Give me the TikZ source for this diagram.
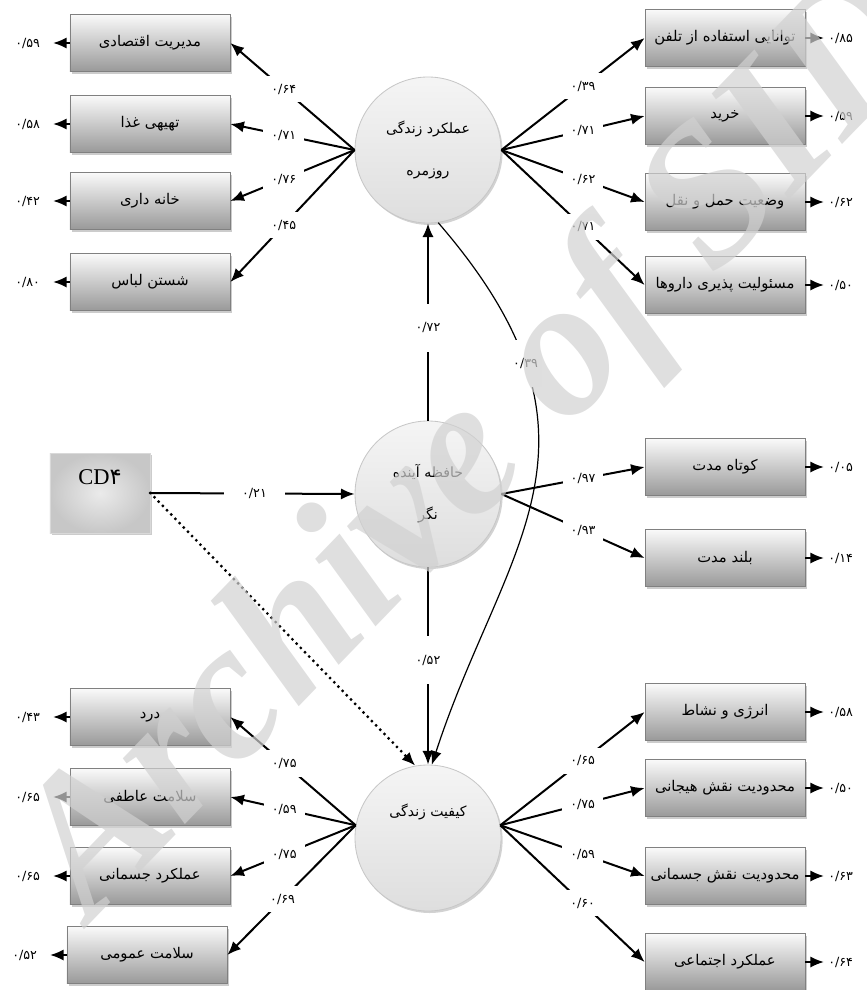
\documentclass[tikz,border=0pt]{standalone}
\usepackage{fontspec}
\setmainfont{Liberation Serif}
\newfontfamily\fa[Script=Arabic]{DejaVu Sans}
\TeXXeTstate=1
\usetikzlibrary{arrows.meta,shadows}

\newcommand{\fatxt}[1]{{\beginR #1\endR}}

\begin{document}
\begin{tikzpicture}[x=0.25mm, y=-0.25mm,
  itembox/.style={rectangle, draw=black!50, line width=0.5pt, top color=black!2,
    bottom color=black!40, minimum width=40mm, minimum height=14.3mm,
    drop shadow={shadow xshift=0.6mm, shadow yshift=-0.6mm, fill=black!40},
    font=\fa\fontsize{10.5}{12}\selectfont},
  latent/.style={circle, draw=black!22, line width=0.6pt, top color=white!96!black,
    bottom color=black!13, minimum size=36.5mm, inner sep=0pt, align=center,
    drop shadow={shadow xshift=0.4mm, shadow yshift=-0.5mm, fill=black!35},
    font=\fa\fontsize{10}{30}\selectfont},
  cdbox/.style={rectangle, draw=black!15, inner color=white!92!black, outer color=black!22,
    minimum width=25mm, minimum height=20mm,
    drop shadow={shadow xshift=0.6mm, shadow yshift=-0.6mm, fill=black!40}},
  loadlbl/.style={fill=white, inner sep=2mm, pos=0.57, font=\fa\fontsize{9}{10}\selectfont},
  hlbl/.style={loadlbl, inner xsep=4.6mm, pos=0.51},
  vlbl/.style={loadlbl, inner xsep=1mm, inner ysep=4.6mm, pos=0.47},
  errl/.style={anchor=east, inner xsep=3.2mm, font=\fa\fontsize{9}{10}\selectfont},
  errr/.style={anchor=west, inner xsep=1mm, font=\fa\fontsize{9}{10}\selectfont},
  load/.style={line width=0.5mm, -{Latex[length=3.4mm,width=2.8mm]}}]

\useasboundingbox (0,0) rectangle (866,990);

%latent variables
  \node[latent] (c1) at (428,150) {\fatxt{عملکرد زندگی}\\\fatxt{روزمره}};
  \node[latent] (c2) at (428,494) {\fatxt{حافظه آینده}\\\fatxt{نگر}};
  \node[latent] (c3) at (428,838) {\fatxt{کیفیت زندگی}\\\strut};
  \node[cdbox] (cd) at (100,493) {\raisebox{2.2mm}[0pt][0pt]{\fontsize{16}{18}\selectfont CD{\fa ۴}}};

%daily function indicators
  \node[itembox] (ma) at (150,43) {\fatxt{مدیریت اقتصادی}};
  \node[itembox] (tg) at (150,124) {\fatxt{تهیهی غذا}};
  \node[itembox] (kd) at (150,201) {\fatxt{خانه داری}};
  \node[itembox] (sl) at (150,282) {\fatxt{شستن لباس}};
  \node[itembox] (tt) at (725,38) {\fatxt{توانایی استفاده از تلفن}};
  \node[itembox] (kh) at (725,116) {\fatxt{خرید}};
  \node[itembox] (vh) at (725,202) {\fatxt{وضعیت حمل و نقل}};
  \node[itembox] (md) at (725,285) {\fatxt{مسئولیت پذیری داروها}};

%memory indicators
  \node[itembox] (km) at (725,467) {\fatxt{کوتاه مدت}};
  \node[itembox] (bm) at (725,558) {\fatxt{بلند مدت}};

%quality of life indicators
  \node[itembox] (dr) at (150,717) {\fatxt{درد}};
  \node[itembox] (sa) at (150,797) {\fatxt{سلامت عاطفی}};
  \node[itembox] (aj) at (150,876) {\fatxt{عملکرد جسمانی}};
  \node[itembox] (so) at (147,955) {\fatxt{سلامت عمومی}};
  \node[itembox] (en) at (725,712) {\fatxt{انرژی و نشاط}};
  \node[itembox] (mh) at (725,788) {\fatxt{محدودیت نقش هیجانی}};
  \node[itembox] (mj) at (725,876) {\fatxt{محدودیت نقش جسمانی}};
  \node[itembox] (ae) at (725,962) {\fatxt{عملکرد اجتماعی}};

%error terms
  \node[errl] (ema) at (53,43) {۰/۵۹};
  \node[errl] (etg) at (53,124) {۰/۵۸};
  \node[errl] (ekd) at (53,201) {۰/۴۲};
  \node[errl] (esl) at (53,282) {۰/۸۰};
  \node[errr] (ett) at (824,38) {۰/۸۵};
  \node[errr] (ekh) at (824,116) {۰/۵۹};
  \node[errr] (evh) at (824,202) {۰/۶۲};
  \node[errr] (emd) at (824,285) {۰/۵۰};
  \node[errr] (ekm) at (824,467) {۰/۰۵};
  \node[errr] (ebm) at (824,558) {۰/۱۴};
  \node[errl] (edr) at (53,717) {۰/۴۳};
  \node[errl] (esa) at (53,797) {۰/۶۵};
  \node[errl] (eaj) at (53,876) {۰/۶۵};
  \node[errl] (eso) at (50,955) {۰/۵۲};
  \node[errr] (een) at (824,712) {۰/۵۸};
  \node[errr] (emh) at (824,788) {۰/۵۰};
  \node[errr] (emj) at (824,876) {۰/۶۳};
  \node[errr] (eae) at (824,962) {۰/۶۴};

  \foreach \b in {ma,tg,kd,sl,dr,sa,aj,so,tt,kh,vh,md,km,bm,en,mh,mj,ae}
    \draw[load] (\b) -- (e\b);

%loadings
  \draw[load] (c1.west) -- node[loadlbl] {۰/۶۴} (ma.east);
  \draw[load] (c1.west) -- node[loadlbl] {۰/۷۱} (tg.east);
  \draw[load] (c1.west) -- node[loadlbl] {۰/۷۶} (kd.east);
  \draw[load] (c1.west) -- node[loadlbl] {۰/۴۵} (sl.east);
  \draw[load] (c1.east) -- node[loadlbl] {۰/۳۹} (tt.west);
  \draw[load] (c1.east) -- node[loadlbl] {۰/۷۱} (kh.west);
  \draw[load] (c1.east) -- node[loadlbl] {۰/۶۲} (vh.west);
  \draw[load] (c1.east) -- node[loadlbl] {۰/۷۱} (md.west);
  \draw[load] (c2.east) -- node[loadlbl] {۰/۹۷} (km.west);
  \draw[load] (c2.east) -- node[loadlbl] {۰/۹۳} (bm.west);
  \draw[load] (c3.170) -- node[loadlbl] {۰/۷۵} (dr.east);
  \draw[load] (c3.170) -- node[loadlbl] {۰/۵۹} (sa.east);
  \draw[load] (c3.170) -- node[loadlbl] {۰/۷۵} (aj.east);
  \draw[load] (c3.170) -- node[loadlbl] {۰/۶۹} (so.east);
  \draw[load] (c3.10) -- node[loadlbl] {۰/۶۵} (en.west);
  \draw[load] (c3.10) -- node[loadlbl] {۰/۷۵} (mh.west);
  \draw[load] (c3.10) -- node[loadlbl] {۰/۵۹} (mj.west);
  \draw[load] (c3.10) -- node[loadlbl] {۰/۶۰} (ae.west);

%structural paths
  \draw[load] (cd.east) -- node[hlbl] {۰/۲۱} (c2.west);
  \draw[load] (c2.north) -- node[vlbl] {۰/۷۲} (c1.south);
  \draw[load] (c2.south) -- node[vlbl] {۰/۵۲} (c3.north);
  \draw[load, line width=0.3mm] (c1.-82) .. controls (628,442) and (503,546) .. node[vlbl, pos=0.24] {۰/۳۹} (c3.87);
  \draw[load, line width=0.8mm, line cap=round, dash pattern=on 0pt off 1.5mm] (cd.east) -- (c3.100);

%watermark
  \node[rotate=46, text=black!18, text opacity=0.7, font=\fontsize{140}{144}\bfseries\itshape] (wm) at (482,448) {Archive of SID};
\end{tikzpicture}
\end{document}
